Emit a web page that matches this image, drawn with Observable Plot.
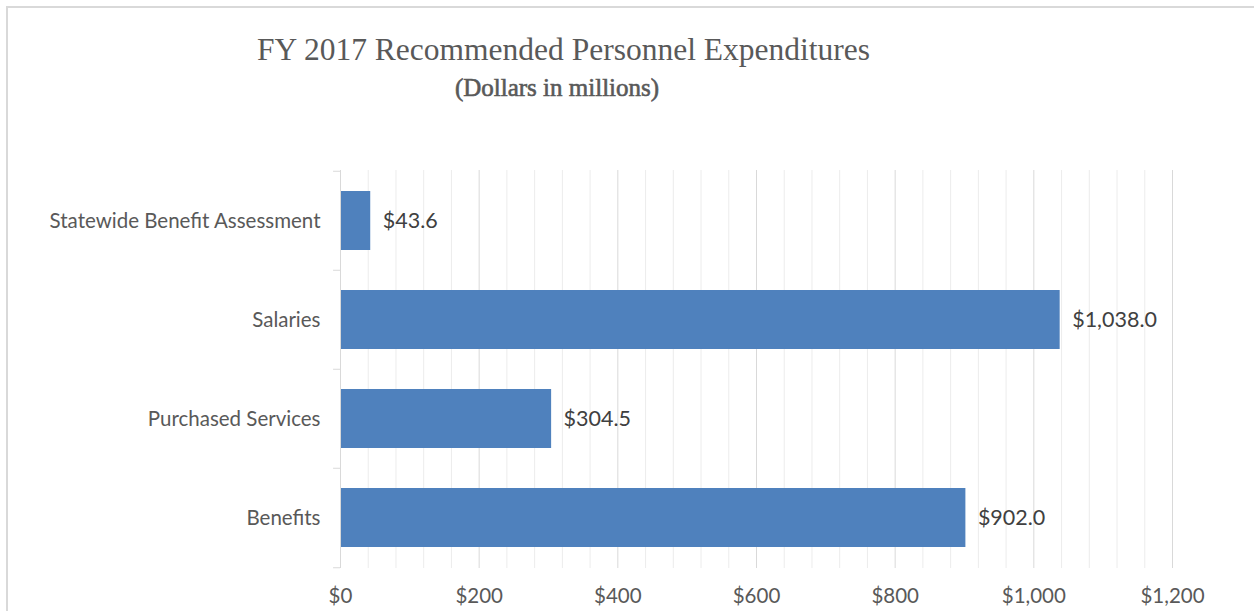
<!DOCTYPE html>
<html>
<head>
<meta charset="utf-8">
<script src="https://cdn.jsdelivr.net/npm/d3@7"></script>
<script src="https://cdn.jsdelivr.net/npm/@observablehq/plot@0.6"></script>
<style>
  html, body { margin: 0; padding: 0; background: #fff; }
  #wrap { position: relative; width: 1254px; height: 611px; overflow: hidden; background: #fff; }
  #frame { position: absolute; left: 6px; top: 6px; width: 1270px; height: 640px; border: 2px solid #d9d9d9; box-sizing: border-box; }
  #title { position: absolute; left: 257px; width: 600px; top: 34px; text-align: center; font-family: "Liberation Serif", serif; font-size: 31.5px; line-height: 1; color: #595959; white-space: nowrap; }
  #subtitle { position: absolute; left: 257px; width: 600px; top: 75px; text-align: center; font-family: "Liberation Serif", serif; font-size: 25px; line-height: 1; color: #595959; -webkit-text-stroke: 0.6px #595959; white-space: nowrap; }
  #chart { position: absolute; left: 0; top: 140px; }
</style>
</head>
<body>
<div id="wrap">
  <div id="frame"></div>
  <div id="title">FY 2017 Recommended Personnel Expenditures</div>
  <div id="subtitle">(Dollars in millions)</div>
  <div id="chart"></div>
</div>
<script>
const categories = ["Statewide Benefit Assessment", "Salaries", "Purchased Services", "Benefits"];
const values = [43.6, 1038.0, 304.5, 902.0];
const xTicks = [0, 200, 400, 600, 800, 1000, 1200];
const minorTicks = d3.range(0, 1201, 40);

const data = categories.map((c, i) => ({category: c, value: values[i]}));
const fmtVal = d3.format("$,.1f");
const fmtTick = d3.format("$,");

const W = 1254, H = 471;
const mTop = 30, mBottom = 43, mLeft = 340, mRight = 82;
const step = (H - mTop - mBottom) / categories.length;

const plot = Plot.plot({
  width: W,
  height: H,
  marginTop: mTop,
  marginBottom: mBottom,
  marginLeft: mLeft,
  marginRight: mRight,
  style: { fontFamily: "Lato, sans-serif", fontSize: "20px", color: "#595959", background: "transparent" },
  x: { domain: [0, 1200], ticks: xTicks, tickFormat: fmtTick, tickSize: 0, tickPadding: 20, label: null },
  y: { domain: categories, paddingInner: 0.4, paddingOuter: 0.2, tickSize: 0, tickPadding: 20, label: null },
  marks: [
    Plot.ruleX(minorTicks.filter(t => t % 200 !== 0), { stroke: "#ececec", strokeWidth: 1 }),
    Plot.ruleX(xTicks.filter(t => t !== 0), { stroke: "#d9d9d9", strokeWidth: 1 }),
    Plot.barX(data, { x: "value", y: "category", fill: "#4f81bd" }),
    Plot.text(data, { x: "value", y: "category", text: d => fmtVal(d.value), textAnchor: "start", dx: 12, fill: "#404040", fontSize: 21.5 }),
    Plot.ruleX([0], { stroke: "#d9d9d9", strokeWidth: 1 }),
    Plot.ruleY(categories, { y: d => d, dy: -step / 2, x1: -10, x2: 0, stroke: "#d9d9d9" }),
    Plot.ruleY(categories.slice(-1), { y: d => d, dy: step / 2, x1: -10, x2: 0, stroke: "#d9d9d9" }),
    Plot.axisX({ ticks: xTicks, tickFormat: fmtTick, tickSize: 0, tickPadding: 20, fill: "#595959", fontSize: 20.5 }),
    Plot.axisY({ tickSize: 0, tickPadding: 20, fill: "#595959", fontSize: 20.5 })
  ]
});
document.getElementById("chart").appendChild(plot);
</script>
</body>
</html>
